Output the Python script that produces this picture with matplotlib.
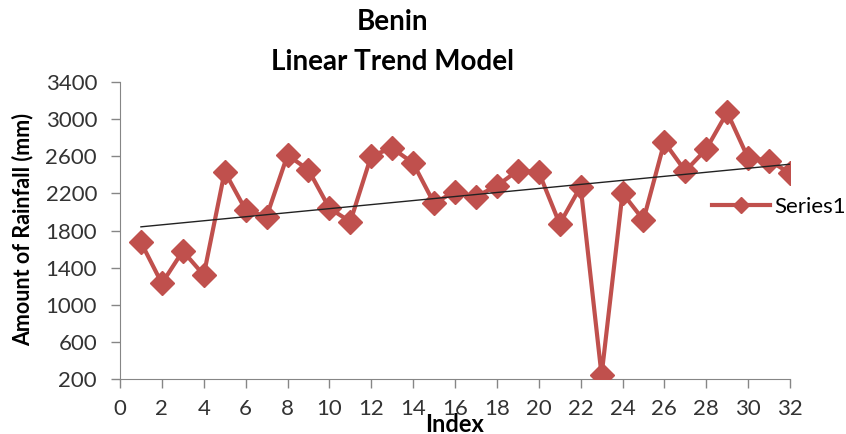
import matplotlib.pyplot as plt
import numpy as np

# rainfall per index
index = list(range(1, 33))
rainfall = [1673, 1230, 1579, 1320, 2435, 2022, 1950, 2612, 2454, 2040,
            1895, 2605, 2688, 2526, 2094, 2220, 2165, 2281, 2446, 2430,
            1871, 2274, 240, 2202, 1914, 2753, 2440, 2677, 3073, 2580,
            2554, 2418]

x_ticks = list(range(0, 33, 2))
y_ticks = list(range(200, 3401, 400))

plt.rcParams['font.family'] = ['Lato', 'DejaVu Sans']

fig = plt.figure(figsize=(8.46, 4.34), dpi=100)
ax = fig.add_axes([120 / 846, 1 - 379 / 434, 670 / 846, 297 / 434])

red = '#C0504D'
ax.plot(index, rainfall, color=red, lw=3, marker='D', ms=12,
        label='Series1', zorder=3)

# least squares trend line over the series
slope, icpt = np.polyfit(index, rainfall, 1)
xs = np.array([index[0], index[-1]])
ax.plot(xs, icpt + slope * xs, color='#222222', lw=1, zorder=4)

ax.set_xlim(0, 32)
ax.set_ylim(200, 3400)
ax.set_xticks(x_ticks)
ax.set_yticks(y_ticks)
ax.tick_params(colors='#868686', labelcolor='#333333', labelsize=16,
               length=6.5, width=1)
ax.tick_params(axis='x', pad=8)
ax.tick_params(axis='y', pad=10)
for side in ('top', 'right'):
    ax.spines[side].set_visible(False)
for side in ('left', 'bottom'):
    ax.spines[side].set_color('#868686')

fig.text(23 / 846, 1 - 230 / 434, 'Amount of Rainfall (mm)', fontsize=15.5,
         fontweight='bold', rotation=90, ha='center', va='center')
fig.text(455 / 846, 1 - 425 / 434, 'Index', fontsize=17, fontweight='bold',
         ha='center', va='center')
fig.text(392 / 846, 1 - 22 / 434, 'Benin', fontsize=20, fontweight='bold',
         ha='center', va='center')
fig.text(392 / 846, 1 - 62 / 434, 'Linear Trend Model', fontsize=20,
         fontweight='bold', ha='center', va='center')

fig.legend(loc='center left', bbox_to_anchor=(712 / 846, 1 - 207 / 434),
           frameon=False, fontsize=16, handlelength=2.6, markerscale=0.7,
           borderaxespad=0, borderpad=0, handletextpad=0.2)

fig.savefig('out.png', dpi=100)
